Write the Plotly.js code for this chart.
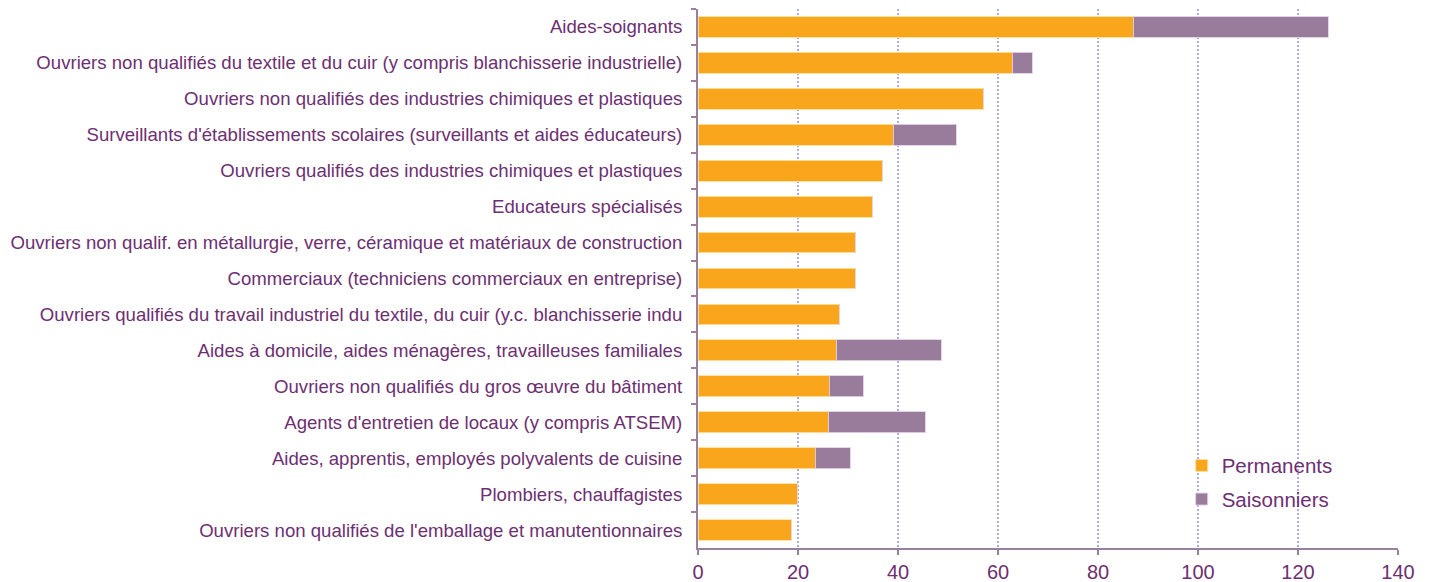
<!DOCTYPE html>
<html>
<head>
<meta charset="utf-8">
<script src="https://cdn.plot.ly/plotly-3.0.1.min.js"></script>
<style>html,body{margin:0;padding:0;background:#fff;}#chart{width:1433px;height:582px;}</style>
</head>
<body>
<div id="chart"></div>
<script>
const categories = [
  "Aides-soignants",
  "Ouvriers non qualifiés du textile et du cuir (y compris blanchisserie industrielle)",
  "Ouvriers non qualifiés des industries chimiques et plastiques",
  "Surveillants d'établissements scolaires (surveillants et aides éducateurs)",
  "Ouvriers qualifiés des industries chimiques et plastiques",
  "Educateurs spécialisés",
  "Ouvriers non qualif. en métallurgie, verre, céramique et matériaux de construction",
  "Commerciaux (techniciens commerciaux en entreprise)",
  "Ouvriers qualifiés du travail industriel du textile, du cuir (y.c. blanchisserie indu",
  "Aides à domicile, aides ménagères, travailleuses familiales",
  "Ouvriers non qualifiés du gros œuvre du bâtiment",
  "Agents d'entretien de locaux (y compris ATSEM)",
  "Aides, apprentis, employés polyvalents de cuisine",
  "Plombiers, chauffagistes",
  "Ouvriers non qualifiés de l'emballage et manutentionnaires"
];
const permanents = [87, 62.8, 57, 39, 36.8, 34.8, 31.4, 31.4, 28.2, 27.6, 26.2, 26, 23.4, 19.8, 18.6];
const saisonniers = [39, 4, 0, 12.6, 0, 0, 0, 0, 0, 21, 6.8, 19.4, 7, 0, 0];
const xTicks = [0, 20, 40, 60, 80, 100, 120, 140];

const textColor = "#6d2f72";
const axisColor = "#9a809c";

const traces = [
  {type: "bar", orientation: "h", name: "Permanents", legendgroup: "p", y: categories, x: permanents,
   marker: {color: "#f9a61c", line: {color: "rgba(255,225,160,0.9)", width: 1}}, hoverinfo: "x+y"},
  {type: "bar", orientation: "h", name: "Saisonniers", legendgroup: "s", y: categories, x: saisonniers,
   marker: {color: "#997c9c", line: {color: "rgba(225,210,230,0.9)", width: 1}}, hoverinfo: "x+y"}
];

const layout = {
  width: 1433, height: 582,
  margin: {l: 698, r: 35, t: 9, b: 34, pad: 0},
  barmode: "stack",
  bargap: 0.42,
  paper_bgcolor: "#fff", plot_bgcolor: "#fff",
  font: {family: "Liberation Sans, Arial, sans-serif", color: textColor},
  xaxis: {
    range: [0, 140], tickvals: xTicks, ticktext: xTicks.map(String),
    showgrid: true, gridcolor: "#a9aede", griddash: "2px,2px", gridwidth: 1.5,
    showline: true, linecolor: axisColor, linewidth: 2,
    ticks: "outside", ticklen: 5, tickcolor: axisColor, tickwidth: 2,
    tickfont: {size: 20, color: textColor}, zeroline: false, fixedrange: true
  },
  yaxis: {
    autorange: "reversed", type: "category",
    showline: true, linecolor: axisColor, linewidth: 2,
    ticks: "outside", tickson: "boundaries", ticklen: 5, tickcolor: axisColor, tickwidth: 2,
    tickfont: {size: 18.6, color: textColor}, showgrid: false, zeroline: false,
    ticklabelstandoff: 10, fixedrange: true
  },
  legend: {
    x: 0.691, y: 0.19, xanchor: "left", yanchor: "top",
    traceorder: "grouped", font: {size: 20.5, color: textColor},
    bgcolor: "rgba(0,0,0,0)", itemwidth: 30, tracegroupgap: 4
  },
  showlegend: true
};

Plotly.newPlot("chart", traces, layout, {displayModeBar: false, staticPlot: true});
</script>
</body>
</html>
